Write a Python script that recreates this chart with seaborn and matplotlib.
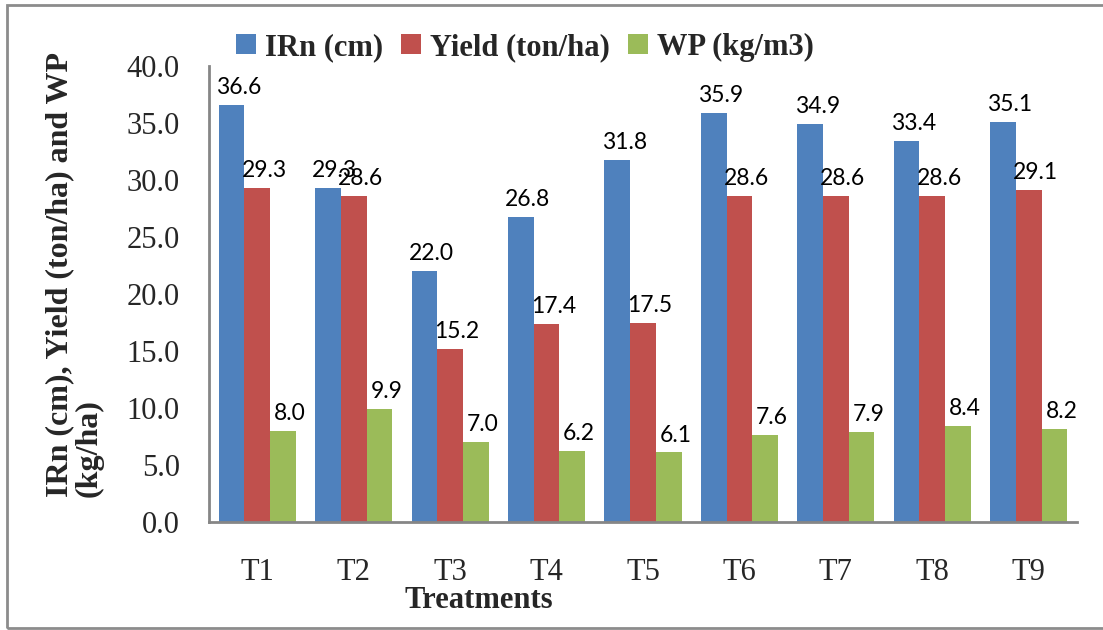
import pandas as pd
import matplotlib.pyplot as plt
import seaborn as sns
from matplotlib.patches import Rectangle

# values
treatments = ['T1', 'T2', 'T3', 'T4', 'T5', 'T6', 'T7', 'T8', 'T9']
irn = [36.6, 29.3, 22.0, 26.8, 31.8, 35.9, 34.9, 33.4, 35.1]
yield_t = [29.3, 28.6, 15.2, 17.4, 17.5, 28.6, 28.6, 28.6, 29.1]
wp = [8.0, 9.9, 7.0, 6.2, 6.1, 7.6, 7.9, 8.4, 8.2]
series = ['IRn (cm)', 'Yield (ton/ha)', 'WP (kg/m3)']
colors = ['#4F81BD', '#C0504D', '#9BBB59']

df = pd.DataFrame({
    'Treatment': treatments * 3,
    'value': irn + yield_t + wp,
    'series': [series[0]] * 9 + [series[1]] * 9 + [series[2]] * 9,
})

sns.set_style("white")
plt.rcParams['font.family'] = ['Liberation Serif', 'DejaVu Serif']

fig = plt.figure(figsize=(11.03, 6.30), dpi=100)
ax = fig.add_axes([0.1895, 0.1714, 0.7869, 0.7238])

sns.barplot(data=df, x='Treatment', y='value', hue='series',
            palette=colors, width=0.8, gap=0, saturation=1,
            edgecolor='none', ax=ax)

# data labels
for cont in ax.containers:
    ax.bar_label(cont, fmt='%.1f', padding=5, fontsize=16.5,
                 family='Lato', color='black')
for t in ax.texts:
    x, y = t.xyann
    t.xyann = (x + 5, y)

ax.set_ylim(0, 40)
ax.set_yticks(range(0, 41, 5))
ax.set_yticklabels([f'{v:.1f}' for v in range(0, 41, 5)])
ax.set_xlim(-0.5, 8.5)
ax.tick_params(axis='both', length=0, labelsize=22)
ax.tick_params(axis='y', pad=21)
ax.tick_params(axis='x', pad=26)
ax.set_xlabel('')
ax.set_ylabel('')

for s in ['top', 'right']:
    ax.spines[s].set_visible(False)
for s in ['left', 'bottom']:
    ax.spines[s].set_color('#868686')
    ax.spines[s].set_linewidth(2)

handles, labels = ax.get_legend_handles_labels()
ax.get_legend().remove()
fig.legend(handles, labels, loc='center', bbox_to_anchor=(0.476, 0.925),
           ncol=3, frameon=False, prop={'weight': 'bold', 'size': 22},
           handlelength=0.65, handleheight=0.65, handletextpad=0.3,
           columnspacing=0.6)

fig.text(0.434, 0.047, 'Treatments', ha='center', va='center',
         fontsize=22, fontweight='bold')
fig.text(0.041, 0.211, 'IRn (cm), Yield (ton/ha) and WP\n(kg/ha)',
         rotation=90, ha='left', va='bottom', multialignment='left',
         fontsize=23, fontweight='bold', linespacing=1.0)

fig.patches.append(Rectangle((0.006, 0.003), 1.1, 0.989, transform=fig.transFigure,
                             fill=False, edgecolor='#8c8c8c', linewidth=2))

fig.savefig('out.png', dpi=100)
